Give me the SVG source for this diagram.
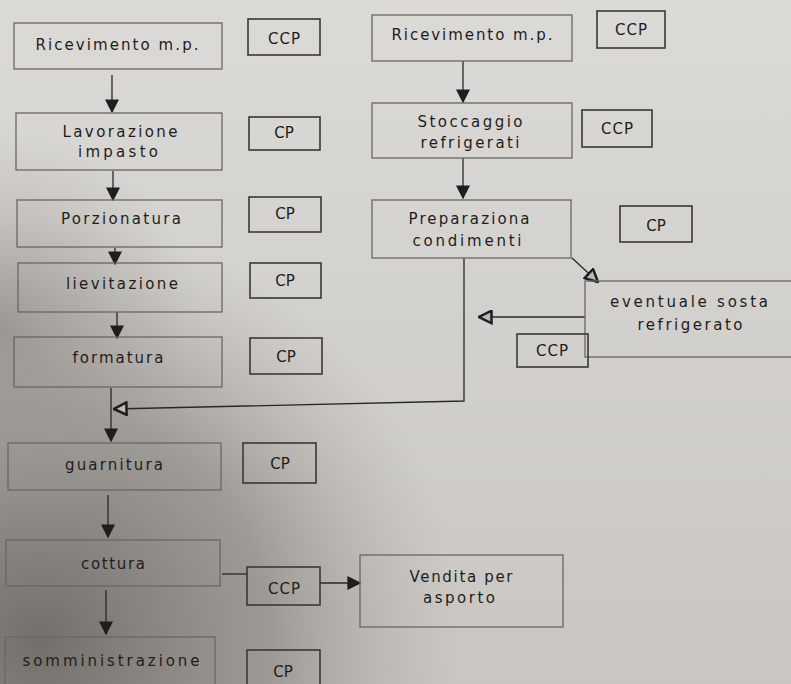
<svg xmlns="http://www.w3.org/2000/svg" width="791" height="684" viewBox="0 0 791 684">
<defs>
<linearGradient id="bg" x1="0" y1="0" x2="0" y2="1">
<stop offset="0" stop-color="#dcdad6"/>
<stop offset="0.5" stop-color="#d2d0cc"/>
<stop offset="1" stop-color="#c9c6c2"/>
</linearGradient>
<radialGradient id="shade" cx="40" cy="640" r="420" gradientUnits="userSpaceOnUse">
<stop offset="0" stop-color="#6e6a66" stop-opacity="0.95"/>
<stop offset="0.55" stop-color="#8a8682" stop-opacity="0.7"/>
<stop offset="1" stop-color="#a9a6a2" stop-opacity="0"/>
</radialGradient>
<radialGradient id="shade2" cx="0" cy="330" r="200" gradientUnits="userSpaceOnUse">
<stop offset="0" stop-color="#8d8985" stop-opacity="0.7"/>
<stop offset="1" stop-color="#a9a6a2" stop-opacity="0"/>
</radialGradient>
<marker id="ah" viewBox="0 0 10 10" refX="9" refY="5" markerWidth="14" markerHeight="14" markerUnits="userSpaceOnUse" orient="auto">
<path d="M0,0 L10,5 L0,10 z" fill="#1e1e1e"/>
</marker>
<marker id="ahh" viewBox="0 0 12 12" refX="11" refY="6" markerWidth="15" markerHeight="15" markerUnits="userSpaceOnUse" orient="auto">
<path d="M1,1 L11,6 L1,11 z" fill="#bdbab6" stroke="#1e1e1e" stroke-width="2"/>
</marker>
</defs>
<style>
.box{fill:none;stroke:#6a6763;stroke-width:1.3}
.cp{fill:none;stroke:#3a3835;stroke-width:1.6}
.t{font-family:"DejaVu Sans","Liberation Sans",sans-serif;font-size:15px;fill:#1f1d1b;text-anchor:middle}
.c{font-family:"DejaVu Sans","Liberation Sans",sans-serif;font-size:15px;fill:#1f1d1b;text-anchor:middle}
.ln{fill:none;stroke:#2a2826;stroke-width:1.3}
</style>
<rect x="0" y="0" width="791" height="684" fill="url(#bg)"/>
<rect x="0" y="0" width="791" height="684" fill="url(#shade)"/>
<rect x="0" y="0" width="791" height="684" fill="url(#shade2)"/>

<g id="connectors">
<line class="ln" x1="112" y1="75" x2="112" y2="112" marker-end="url(#ah)"/>
<line class="ln" x1="113" y1="171" x2="113" y2="200" marker-end="url(#ah)"/>
<line class="ln" x1="115" y1="248" x2="115" y2="264" marker-end="url(#ah)"/>
<line class="ln" x1="117" y1="312" x2="117" y2="338" marker-end="url(#ah)"/>
<line class="ln" x1="111" y1="388" x2="111" y2="441" marker-end="url(#ah)"/>
<polyline class="ln" points="464,258 464,401 114,409" marker-end="url(#ahh)"/>
<line class="ln" x1="108" y1="495" x2="108" y2="537" marker-end="url(#ah)"/>
<line class="ln" x1="106" y1="590" x2="106" y2="634" marker-end="url(#ah)"/>
<line class="ln" x1="222" y1="574" x2="247" y2="574"/>
<line class="ln" x1="320" y1="583" x2="360" y2="583" marker-end="url(#ah)"/>
<line class="ln" x1="463" y1="61" x2="463" y2="102" marker-end="url(#ah)"/>
<line class="ln" x1="463" y1="158" x2="463" y2="198" marker-end="url(#ah)"/>
<line class="ln" x1="572" y1="258" x2="598" y2="282" marker-end="url(#ahh)"/>
<line class="ln" x1="585" y1="317" x2="479" y2="317" marker-end="url(#ahh)"/>
</g>

<g id="ricevimento-l"><rect class="box" x="14" y="23" width="208" height="46"/><text class="t" x="117" y="50" textLength="163" lengthAdjust="spacing">Ricevimento m.p.</text></g>
<g id="ccp-1"><rect class="cp" x="248" y="19" width="72" height="36"/><text class="c" x="284" y="44" textLength="32" lengthAdjust="spacing">CCP</text></g>

<g id="lavorazione"><rect class="box" x="16" y="113" width="206" height="57"/><text class="t" x="120" y="137" textLength="115" lengthAdjust="spacing">Lavorazione</text><text class="t" x="118" y="157" textLength="80" lengthAdjust="spacing">impasto</text></g>
<g id="cp-2"><rect class="cp" x="249" y="117" width="71" height="33"/><text class="c" x="284" y="138">CP</text></g>

<g id="porzionatura"><rect class="box" x="17" y="200" width="205" height="47"/><text class="t" x="121" y="224" textLength="120" lengthAdjust="spacing">Porzionatura</text></g>
<g id="cp-3"><rect class="cp" x="249" y="197" width="72" height="35"/><text class="c" x="285" y="219">CP</text></g>

<g id="lievitazione"><rect class="box" x="18" y="263" width="204" height="49"/><text class="t" x="122" y="289" textLength="112" lengthAdjust="spacing">lievitazione</text></g>
<g id="cp-4"><rect class="cp" x="250" y="263" width="71" height="35"/><text class="c" x="285" y="286">CP</text></g>

<g id="formatura"><rect class="box" x="14" y="337" width="208" height="50"/><text class="t" x="118" y="363" textLength="91" lengthAdjust="spacing">formatura</text></g>
<g id="cp-5"><rect class="cp" x="250" y="338" width="72" height="36"/><text class="c" x="286" y="362">CP</text></g>

<g id="guarnitura"><rect class="box" x="8" y="443" width="213" height="47"/><text class="t" x="114" y="470" textLength="98" lengthAdjust="spacing">guarnitura</text></g>
<g id="cp-6"><rect class="cp" x="243" y="443" width="73" height="40"/><text class="c" x="280" y="469">CP</text></g>

<g id="cottura"><rect class="box" x="6" y="540" width="214" height="46"/><text class="t" x="113" y="569" textLength="64" lengthAdjust="spacing">cottura</text></g>
<g id="ccp-7"><rect class="cp" x="247" y="567" width="73" height="38"/><text class="c" x="284" y="594" textLength="32" lengthAdjust="spacing">CCP</text></g>

<g id="vendita"><rect class="box" x="360" y="555" width="203" height="72"/><text class="t" x="461" y="582" textLength="103" lengthAdjust="spacing">Vendita per</text><text class="t" x="459" y="603" textLength="72" lengthAdjust="spacing">asporto</text></g>

<g id="somministrazione"><rect class="box" x="5" y="637" width="210" height="60"/><text class="t" x="111" y="666" textLength="177" lengthAdjust="spacing">somministrazione</text></g>
<g id="cp-8"><rect class="cp" x="247" y="650" width="73" height="50"/><text class="c" x="283" y="677">CP</text></g>

<g id="ricevimento-r"><rect class="box" x="372" y="15" width="200" height="46"/><text class="t" x="472" y="40" textLength="161" lengthAdjust="spacing">Ricevimento m.p.</text></g>
<g id="ccp-r1"><rect class="cp" x="597" y="11" width="68" height="37"/><text class="c" x="631" y="35" textLength="32" lengthAdjust="spacing">CCP</text></g>

<g id="stoccaggio"><rect class="box" x="372" y="103" width="200" height="55"/><text class="t" x="470" y="127" textLength="105" lengthAdjust="spacing">Stoccaggio</text><text class="t" x="470" y="148" textLength="99" lengthAdjust="spacing">refrigerati</text></g>
<g id="ccp-r2"><rect class="cp" x="582" y="110" width="70" height="37"/><text class="c" x="617" y="134" textLength="32" lengthAdjust="spacing">CCP</text></g>

<g id="preparazione"><rect class="box" x="372" y="200" width="199" height="58"/><text class="t" x="469" y="224" textLength="121" lengthAdjust="spacing">Preparaziona</text><text class="t" x="467" y="246" textLength="109" lengthAdjust="spacing">condimenti</text></g>
<g id="cp-r3"><rect class="cp" x="620" y="206" width="72" height="36"/><text class="c" x="656" y="231">CP</text></g>

<g id="sosta"><rect class="box" x="585" y="281" width="220" height="76"/><text class="t" x="689" y="307" textLength="158" lengthAdjust="spacing">eventuale sosta</text><text class="t" x="690" y="330" textLength="105" lengthAdjust="spacing">refrigerato</text></g>
<g id="ccp-r4"><rect class="cp" x="517" y="334" width="71" height="33"/><text class="c" x="552" y="356" textLength="32" lengthAdjust="spacing">CCP</text></g>
</svg>
